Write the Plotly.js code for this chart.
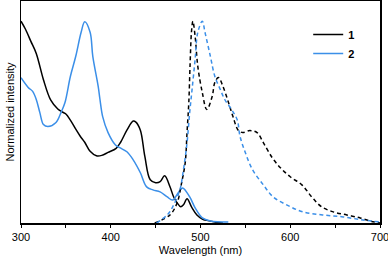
<!DOCTYPE html>
<html><head><meta charset="utf-8">
<script src="https://cdn.plot.ly/plotly-3.0.1.min.js"></script>
<style>html,body{margin:0;padding:0;background:#fff}#chart{width:388px;height:257px}</style>
</head><body><div id="chart"></div>
<script>
// Absorption, compound 1
const abs1_x = [300,305,311,317,325,333,341,346,350,355,361,366,371,377,384,390,397,406,411,418,425,428,433,438,444,450,455,460,466,470,474,478,481,485,490,496,502,507,516,525];
const abs1_y = [1.0,0.96,0.90,0.84,0.71,0.61,0.565,0.55,0.54,0.51,0.465,0.43,0.40,0.355,0.333,0.335,0.35,0.37,0.40,0.46,0.505,0.50,0.46,0.33,0.214,0.20,0.205,0.234,0.18,0.13,0.10,0.08,0.09,0.12,0.08,0.04,0.02,0.013,0.005,0.0];
// Absorption, compound 2
const abs2_x = [300,308,313,317,321,325,330,339,345,349,355,361,367,371,377,380,386,388,391,397,405,410,418,425,433,440,447,455,463,469,475,480,488,494,502,511,531];
const abs2_y = [0.72,0.672,0.652,0.612,0.547,0.488,0.478,0.498,0.552,0.597,0.726,0.826,0.945,0.997,0.945,0.826,0.677,0.612,0.527,0.448,0.388,0.373,0.353,0.313,0.249,0.179,0.164,0.154,0.129,0.114,0.149,0.174,0.129,0.075,0.025,0.01,0.005];
// Emission, compound 1
const em1_x = [449,466,474,479,483,485,487,488.5,490,491.5,494,497,502,507,513,516,520,525,531,536,542,547,555,563,570,580,589,600,613,624,635,648,663,678,689,700];
const em1_y = [0.0,0.04,0.10,0.20,0.30,0.45,0.60,0.80,0.95,1.0,0.925,0.776,0.647,0.562,0.627,0.697,0.721,0.677,0.60,0.53,0.46,0.448,0.458,0.448,0.398,0.323,0.274,0.229,0.189,0.129,0.08,0.055,0.04,0.025,0.01,0.0];
// Emission, compound 2
const em2_x = [451,463,469,477,480.5,485,488,490.5,494,497,502,505,511,516,522,527,535,541,544,550,558,570,581,596,614,636,659,681,700];
const em2_y = [0.0,0.04,0.08,0.164,0.249,0.398,0.55,0.657,0.811,0.945,1.0,0.945,0.826,0.726,0.662,0.612,0.56,0.51,0.43,0.348,0.264,0.189,0.129,0.09,0.055,0.04,0.03,0.015,0.005];
const names = ['1','2'];
const colors = ['#000000','#3b8fe8'];
const tickValues = [300,400,500,600,700];
const tickLabels = ['300','400','500','600','700'];

const traces = [
  {x:abs1_x,y:abs1_y,name:names[0],mode:'lines',line:{color:colors[0],width:1.5,shape:'spline'},legendgroup:'1'},
  {x:abs2_x,y:abs2_y,name:names[1],mode:'lines',line:{color:colors[1],width:1.5,shape:'spline'},legendgroup:'2'},
  {x:em1_x,y:em1_y,name:names[0],mode:'lines',line:{color:colors[0],width:1.5,dash:'4px,3px',shape:'spline'},showlegend:false},
  {x:em2_x,y:em2_y,name:names[1],mode:'lines',line:{color:colors[1],width:1.5,dash:'4px,3px',shape:'spline'},showlegend:false}
];
const layout = {
  width:388,height:257,
  margin:{l:21,r:8,t:1,b:34},
  paper_bgcolor:'#fff',plot_bgcolor:'#fff',
  font:{family:'Liberation Sans, Arial, sans-serif',size:11,color:'#000'},
  showlegend:true,
  legend:{x:0.8,y:0.914,xanchor:'left',yanchor:'top',font:{size:11,color:'#000',weight:'bold'},bgcolor:'rgba(0,0,0,0)',tracegroupgap:0,itemwidth:30},
  xaxis:{range:[300,700],tickmode:'array',tickvals:tickValues,ticktext:tickLabels,ticks:'outside',ticklen:3,tickwidth:1,tickcolor:'#000',
    ticklabeloverflow:'allow',
    minor:{dtick:50,tick0:300,ticks:'outside',ticklen:3,tickcolor:'#000'},
    showline:true,mirror:true,linecolor:'#000',linewidth:1.5,showgrid:false,zeroline:false,automargin:false,
    title:{text:'Wavelength (nm)',font:{size:11},standoff:4}},
  yaxis:{range:[0,1.1],showticklabels:false,ticks:'',showline:true,mirror:true,linecolor:'#000',linewidth:1.5,showgrid:false,zeroline:false,
    title:{text:'Normalized intensity',font:{size:11},standoff:2}}
};
Plotly.newPlot('chart',traces,layout,{displayModeBar:false,staticPlot:true});
</script></body></html>
